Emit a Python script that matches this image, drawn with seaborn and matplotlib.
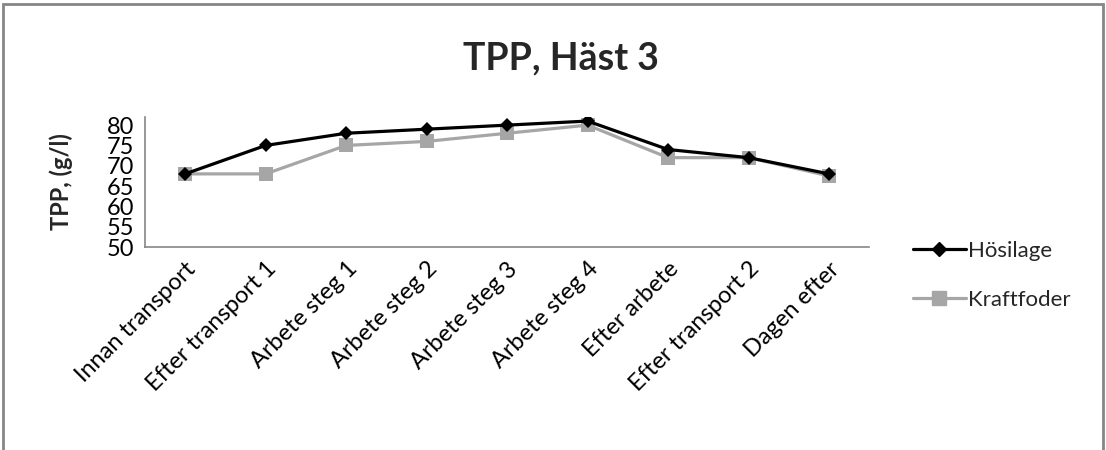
import matplotlib
matplotlib.use("Agg")
import matplotlib.pyplot as plt
from matplotlib.patches import Rectangle
from matplotlib.lines import Line2D
import seaborn as sns
import pandas as pd

categories = ["Innan transport", "Efter transport 1", "Arbete steg 1", "Arbete steg 2",
              "Arbete steg 3", "Arbete steg 4", "Efter arbete", "Efter transport 2", "Dagen efter"]
hosilage = [68, 75, 78, 79, 80, 81, 74, 72, 68]
kraftfoder = [68, 68, 75, 76, 78, 80, 72, 72, 67.5]
yticks = [50, 55, 60, 65, 70, 75, 80]

sns.set_theme(style="white")
plt.rcParams['font.family'] = ['Lato', 'DejaVu Sans']

df = pd.DataFrame({
    "Tid": categories * 2,
    "TPP": hosilage + kraftfoder,
    "Foder": ["Hösilage"] * len(categories) + ["Kraftfoder"] * len(categories),
})

fig = plt.figure(figsize=(11.06, 4.5), dpi=100)
ax = fig.add_axes([0.131, 0.451, 0.655, 0.289])

sns.lineplot(data=df, x="Tid", y="TPP", hue="Foder", style="Foder",
             markers={"Hösilage": "D", "Kraftfoder": "s"}, dashes=False,
             palette={"Hösilage": "black", "Kraftfoder": "#a6a6a6"},
             hue_order=["Kraftfoder", "Hösilage"],
             linewidth=2.3, markersize=8, markeredgewidth=0, ax=ax, legend=False, sort=False)

for line in ax.lines:
    if line.get_marker() == "s":
        line.set_markersize(10)
        line.set_zorder(2)
    elif line.get_marker() == "D":
        line.set_markersize(7.5)
        line.set_zorder(3)

ax.set_xlim(-0.5, len(categories) - 0.5)
ax.set_ylim(50, 82)
ax.set_yticks(yticks)
ax.set_yticklabels([str(v) for v in yticks], fontsize=17)
ax.set_xticks(range(len(categories)))
ax.set_xticklabels(categories, rotation=45, ha="right", rotation_mode="anchor", fontsize=17)
ax.set_xticks([i - 0.5 for i in range(len(categories) + 1)], minor=True)
ax.tick_params(axis="x", which="major", length=0, pad=8)
ax.tick_params(axis="x", which="minor", length=7, color="#868686", width=1.2, direction="out")
ax.tick_params(axis="y", which="major", length=5, color="#868686", width=1.2, direction="out", pad=3)
ax.tick_params(axis="both", labelcolor="black")

for s in ["top", "right"]:
    ax.spines[s].set_visible(False)
for s in ["left", "bottom"]:
    ax.spines[s].set_color("#868686")
    ax.spines[s].set_linewidth(1.2)

ax.set_xlabel("")
ax.set_ylabel("TPP, (g/l)", fontsize=17, fontweight="bold", labelpad=24)

fig.text(0.507, 0.87, "TPP, Häst 3", ha="center", va="center", fontsize=27, fontweight="bold")

handles = [Line2D([], [], color="black", lw=2.3, marker="D", markersize=7.5),
           Line2D([], [], color="#a6a6a6", lw=2.3, marker="s", markersize=10)]
fig.legend(handles, ["Hösilage", "Kraftfoder"], loc="upper left",
           bbox_to_anchor=(0.815, 0.49), frameon=False, fontsize=16,
           handlelength=2.4, handletextpad=0.1, labelspacing=1.3, borderpad=0)

fig.patches.append(Rectangle((0.003, -0.1), 0.994, 1.091, transform=fig.transFigure,
                             fill=False, edgecolor="#868686", linewidth=2))

fig.savefig("out.png", dpi=100)
